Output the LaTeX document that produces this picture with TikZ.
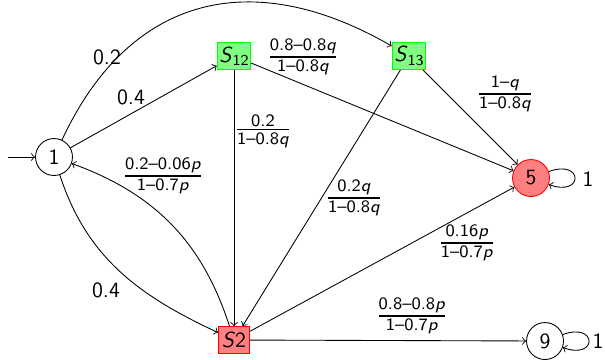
\documentclass[tikz,border=0pt]{standalone}
\usepackage{amsmath}
\newcommand\myfr[2]{$\genfrac{}{}{0.9pt}{1}{\hbox{\footnotesize #1}}{\hbox{\footnotesize #2}}$}
\newcommand\vp{\textit{p}}
\newcommand\vq{\textit{q}}
\begin{document}
\begin{tikzpicture}[x=0.46pt,y=-0.46pt,
  every node/.append style={font=\sffamily},
  state/.style={circle,draw,minimum size=17pt,inner sep=0pt},
  good/.style={rectangle,draw=green,fill=green!50,minimum width=14.3pt,minimum height=12.4pt,inner sep=1pt},
  bad/.style={rectangle,draw=red,fill=red!50,minimum width=14.3pt,minimum height=12.4pt,inner sep=1pt},
  edge/.style={->,line width=0.4pt},
  lbl/.style={inner sep=1pt}]
\useasboundingbox (0,0) rectangle (605,359);
\node[state] (n1) at (54,157) {1};
\node[good] (s12) at (234,56) {\textit{S}\raisebox{-0.35ex}{\scriptsize 12}};
\node[good] (s13) at (409,56) {\textit{S}\raisebox{-0.35ex}{\scriptsize 13}};
\node[state,draw=red,fill=red!50] (n5) at (531,178) {5};
\node[bad] (s2) at (234,340) {\textit{S}2};
\node[state] (n9) at (545,341) {9};
\coordinate (init) at (8,157);

\draw[edge] (init) -- (n1);
\draw[edge] (n1) to[out=65,in=150,looseness=1.2] (s13);
\draw[edge] (n1) -- (s12);
\draw[edge] (n1) to[out=-72,in=155] (s2);
\draw[edge] (s2) to[out=108,in=-20] (n1);
\draw[edge] (s12) -- (s2);
\draw[edge] (s12) -- (n5);
\draw[edge] (s13) -- (n5);
\draw[edge] (s13) -- (s2);
\draw[edge] (s2) -- (n5);
\draw[edge] (s2) -- (n9);
\draw[edge] (n5) to[out=20,in=-20,min distance=6mm] (n5);
\draw[edge] (n9) to[out=20,in=-20,min distance=6mm] (n9);

\node[lbl] (l1) at (107,57) {0.2};
\node[lbl] (l2) at (131,97) {0.4};
\node[lbl] (l3) at (303,57) {\myfr{0.8--0.8\vq}{1--0.8\vq}};
\node[lbl] (l4) at (263,131) {\myfr{0.2}{1--0.8\vq}};
\node[lbl] (l5) at (505,94) {\myfr{1--\vq}{1--0.8\vq}};
\node[lbl] (l6) at (163,176) {\myfr{0.2--0.06\vp}{1--0.7\vp}};
\node[lbl] (l7) at (354,198) {\myfr{0.2\vq}{1--0.8\vq}};
\node[lbl] (l8) at (467,243) {\myfr{0.16\vp}{1--0.7\vp}};
\node[lbl] (l9) at (106,290) {0.4};
\node[lbl] (l10) at (412,316) {\myfr{0.8--0.8\vp}{1--0.7\vp}};
\node[lbl] (l11) at (588,179) {1};
\node[lbl] (l12) at (598,341) {1};
\end{tikzpicture}
\end{document}
